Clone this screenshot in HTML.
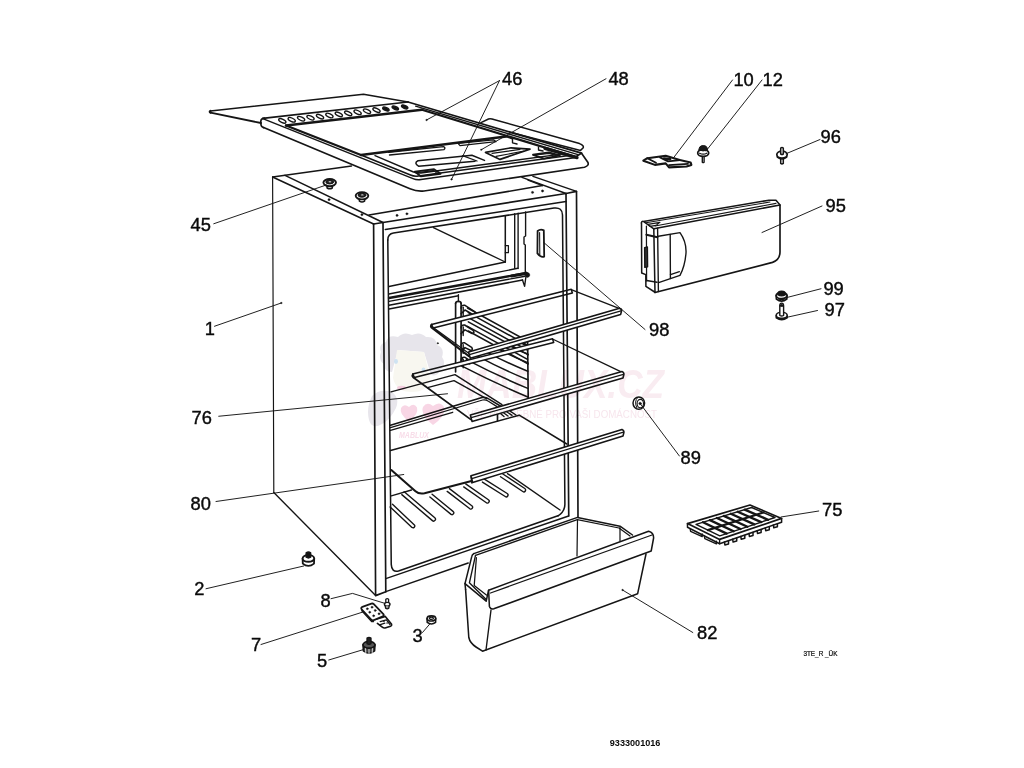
<!DOCTYPE html>
<html><head><meta charset="utf-8"><title>9333001016</title>
<style>
html,body{margin:0;padding:0;background:#fff;}
body{width:1024px;height:768px;overflow:hidden;font-family:"Liberation Sans",sans-serif;}
svg{display:block;}
svg path,svg ellipse,svg circle,svg rect,svg polygon{stroke:#151515;stroke-linecap:round;stroke-linejoin:round;}
svg text{font-family:"Liberation Sans",sans-serif;fill:#0a0a0a;stroke:none;}
</style></head><body>
<svg width="1024" height="768" viewBox="0 0 1024 768" fill="none">
<rect x="0" y="0" width="1024" height="768" fill="#ffffff" stroke="none" style="stroke:none"/>
<g id="lid">
<path d="M210.5,111 L363.5,94.3 L408,102" stroke-width="1.52" fill="none" />
<path d="M210.5,112.6 L261,123" stroke-width="1.79" fill="none" />
<path d="M210.5,111 Q209,111.8 210.5,112.6" stroke-width="2.21" fill="none" />
<path d="M262.8,118.4 L408,102" stroke-width="1.66" fill="none" />
<path d="M264.5,118.2 Q260.8,118.6 260.8,121.6 L261,124.8 Q261.2,127 263.6,127.6" stroke-width="1.66" fill="none" />
<path d="M262.8,118.6 L413,178.6 Q416.5,180.2 421,179.6 L574,157.8 L581,153.5" stroke-width="1.52" fill="none" />
<path d="M263.6,127.6 L410,188.8 Q417,191.8 424,191 L584.5,167.2 Q589.5,165.6 587.8,162.2 L581.5,153.2" stroke-width="1.66" fill="none" />
<path d="M408,102 L581.5,153.2" stroke-width="1.79" fill="none" />
<path d="M415.6,106.2 L578,154.6" stroke-width="1.38" fill="none" />
<path d="M421.9,109.8 L575,156.8" stroke-width="2.21" fill="none" />
<path d="M545,148.4 L577,157.6" stroke-width="3.31" fill="none" />
<path d="M286,125.5 L421.9,109.8" stroke-width="2.48" fill="none" />
<path d="M286,125.5 L361,155" stroke-width="2.21" fill="none" />
<path d="M361,155 L506,136.4" stroke-width="2.48" fill="none" />
<path d="M361,155 L410.5,175 Q414,176.6 418.5,176 L569,155.4" stroke-width="1.52" fill="none" />
<path d="M375,155.6 L413.5,172 Q416.5,173.6 421,173 L565,153.6" stroke-width="1.38" fill="none" />
<path d="M388.5,152.2 L443.5,146.6 Q446,147.6 444,149.6 L389.5,155" stroke-width="1.38" fill="none" />
<path d="M418,160.8 L471.9,155.2 L484.5,160.4 M418,160.8 Q413.5,163 418.5,166.2 L475,161.2" stroke-width="1.52" fill="none" />
<path d="M462.5,155.6 L477,161" stroke-width="1.24" fill="none" />
<path d="M414.8,171.6 L434,169.2 L440.6,173.8 L421,176.4 Z" stroke-width="1.93" fill="none" />
<path d="M417.5,172.6 L433.5,170.6 L437.5,173.6" stroke-width="1.10" fill="none" />
<path d="M458,143.4 L493.5,139.8 L496,141.6 L460,145.6 Z" stroke-width="1.24" fill="none" />
<path d="M485.5,152.4 L511,147.8 L530,149.2 L500,159.4 Z" stroke-width="1.66" fill="none" />
<path d="M492,153.4 L520,149.4 M496,156.4 L524,151" stroke-width="1.10" fill="none" />
<path d="M533,154.8 L548.8,152.4 L559.8,155.4 L544,158.6 Z" stroke-width="1.93" fill="none" />
<path d="M536,155 L549,153.4 L556,155.4" stroke-width="1.10" fill="none" />
<path d="M512.5,138.6 L512.5,142.8 L517,144 M538.5,147 L538.5,150 L543,151" stroke-width="1.38" fill="none" />
<path d="M506,136.4 L512.5,138.6" stroke-width="1.66" fill="none" />
<path d="M481,122.6 L488.5,119 Q490,118.4 492,119 L579.5,143.6 Q584.5,145.6 583,148 L580.5,150.4 L512,132.8" stroke-width="1.52" fill="none" />
<ellipse cx="282.3" cy="120.9" rx="3.9" ry="1.7" transform="rotate(24 282.3 120.9)" stroke-width="1.35"/>
<ellipse cx="291.7" cy="119.8" rx="3.9" ry="1.7" transform="rotate(24 291.7 119.8)" stroke-width="1.35"/>
<ellipse cx="301.1" cy="118.7" rx="3.9" ry="1.7" transform="rotate(24 301.1 118.7)" stroke-width="1.35"/>
<ellipse cx="310.5" cy="117.7" rx="3.9" ry="1.7" transform="rotate(24 310.5 117.7)" stroke-width="1.35"/>
<ellipse cx="320.0" cy="116.6" rx="3.9" ry="1.7" transform="rotate(24 320.0 116.6)" stroke-width="1.35"/>
<ellipse cx="329.4" cy="115.5" rx="3.9" ry="1.7" transform="rotate(24 329.4 115.5)" stroke-width="1.35"/>
<ellipse cx="338.8" cy="114.4" rx="3.9" ry="1.7" transform="rotate(24 338.8 114.4)" stroke-width="1.35"/>
<ellipse cx="348.2" cy="113.4" rx="3.9" ry="1.7" transform="rotate(24 348.2 113.4)" stroke-width="1.35"/>
<ellipse cx="357.6" cy="112.3" rx="3.9" ry="1.7" transform="rotate(24 357.6 112.3)" stroke-width="1.35"/>
<ellipse cx="367.0" cy="111.2" rx="3.9" ry="1.7" transform="rotate(24 367.0 111.2)" stroke-width="1.35"/>
<ellipse cx="376.5" cy="110.1" rx="3.9" ry="1.7" transform="rotate(24 376.5 110.1)" stroke-width="1.35"/>
<ellipse cx="385.9" cy="109.1" rx="3.4" ry="1.5" transform="rotate(24 385.9 109.1)" fill="#151515" stroke-width="1.4"/>
<ellipse cx="395.3" cy="108.0" rx="3.4" ry="1.5" transform="rotate(24 395.3 108.0)" fill="#151515" stroke-width="1.4"/>
<ellipse cx="404.7" cy="106.9" rx="3.4" ry="1.5" transform="rotate(24 404.7 106.9)" fill="#151515" stroke-width="1.4"/>
</g>
<g id="interior">
<path d="M433.4,227.7 L505.3,262" stroke-width="1.38" fill="none" />
<path d="M505.3,216 L505.3,262" stroke-width="1.52" fill="none" />
<path d="M505.3,245.6 L508.4,245.6 L508.4,252.7 L505.3,252.7" stroke-width="1.24" fill="none" />
<path d="M514.7,213.8 L514.7,268.3 M518.1,213.2 L518.1,268.6" stroke-width="1.38" fill="none" />
<path d="M525.6,212 L525.6,236 L524,237 L524,244 L525.3,245 L525.3,272" stroke-width="1.38" fill="none" />
<path d="M389,286.4 L505.3,262" stroke-width="1.52" fill="none" />
<path d="M389,294 L517.8,268.3" stroke-width="1.38" fill="none" />
<path d="M389,298 L526.5,273" stroke-width="2.35" fill="none" />
<path d="M389,301.4 L525,276.2" stroke-width="1.38" fill="none" />
<path d="M389,305.2 L522.5,280" stroke-width="1.52" fill="none" />
<path d="M389,309 L458.4,295.8" stroke-width="1.38" fill="none" />
<path d="M511.5,276 L526,273.4" stroke-width="3.04" fill="none" />
<circle cx="527.3" cy="275" r="2.4" fill="#151515" stroke-width="0.5"/>
<path d="M522.5,280 L524.6,286.4 L525.8,277.5" stroke-width="1.38" fill="none" />
<path d="M537.6,231 Q540.5,228.6 543.8,230.4 L544.2,256.6 Q541,258 537.4,253.4 Z" stroke-width="1.79" fill="none" />
<path d="M539.6,232.5 L539.8,254.8" stroke-width="1.10" fill="none" />
<path d="M458.4,294.8 L458.4,301.6" stroke-width="1.38" fill="none" />
<path d="M455.6,303.4 L455.6,372 M461.1,303.4 L461.1,362" stroke-width="1.66" fill="none" />
<path d="M455.6,303.4 Q455.8,301.4 458.4,301.4 Q461,301.4 461.1,303.4" stroke-width="1.66" fill="none" />
<path d="M461.1,308.2 Q461.1,304.8 464.6,305.2 L474.6,311.6 Q477.1,314.2 473.6,314.8 L465,310.0 L461.1,313.8" stroke-width="1.52" fill="none" />
<path d="M463.2,307.2 L463.2,315.8" stroke-width="1.38" fill="none" />
<path d="M461.1,328.0 Q461.1,324.6 464.6,325.0 L473.1,330.4 Q475.2,333.0 472.2,333.6 L465,329.8 L461.1,333.6" stroke-width="1.52" fill="none" />
<path d="M463.2,327.0 L463.2,335.6" stroke-width="1.38" fill="none" />
<path d="M461.1,345.79999999999995 Q461.1,342.4 464.6,342.79999999999995 L471.6,347.3 Q473.4,349.9 470.9,350.5 L465,347.59999999999997 L461.1,351.4" stroke-width="1.52" fill="none" />
<path d="M463.2,344.79999999999995 L463.2,353.4" stroke-width="1.38" fill="none" />
<path d="M461.1,360.2 Q461.1,356.8 464.6,357.2 L470.1,360.7 Q471.5,363.3 469.6,363.9 L465,362.0 L461.1,365.8" stroke-width="1.52" fill="none" />
<path d="M463.2,359.2 L463.2,367.8" stroke-width="1.38" fill="none" />
<path d="M467.5,308.0 L527.5,341.0" stroke-width="1.52" fill="none" />
<path d="M468.3,312.6 L528.3,345.6" stroke-width="1.52" fill="none" />
<path d="M467.5,317.2 L527.5,350.2" stroke-width="1.52" fill="none" />
<path d="M468.3,321.8 L528.3,354.8" stroke-width="1.52" fill="none" />
<path d="M467.5,326.4 L527.5,359.4" stroke-width="1.52" fill="none" />
<path d="M468.3,331.0 L528.3,364.0" stroke-width="1.52" fill="none" />
<path d="M527.6,341 L528.2,397.6" stroke-width="1.66" fill="none" />
<path d="M462.0,366.1 Q494.9,383.1 527.8,397.0" stroke-width="1.52" fill="none" />
<path d="M466.5,359.6 Q497.1,375.6 527.8,388.4" stroke-width="1.52" fill="none" />
<path d="M477.0,355.9 Q502.4,369.5 527.8,379.8" stroke-width="1.52" fill="none" />
<path d="M487.5,352.3 Q507.6,363.3 527.8,371.2" stroke-width="1.52" fill="none" />
<path d="M498.0,348.6 Q512.9,357.2 527.8,362.6" stroke-width="1.52" fill="none" />
<path d="M508.5,344.9 Q518.1,351.1 527.8,354.0" stroke-width="1.52" fill="none" />
<path d="M519.0,341.3 Q523.4,344.9 527.8,345.4" stroke-width="1.52" fill="none" />
<path d="M462,366 Q460.5,362 462.5,358" stroke-width="1.38" fill="none" />
<path d="M571.2,289.6 L621.6,309.4" stroke-width="1.38" fill="none" />
<path d="M431.6,324.4 L571.2,289.2 L572.4000000000001,292.9 L433.20000000000005,328.09999999999997 Z" stroke-width="1.52" fill="#fff" />
<path d="M431.6,324.6 Q430.4,326.2 431.8,327.6 L468.6,356" stroke-width="2.21" fill="none" />
<path d="M434.6,328.6 L469.4,353.8" stroke-width="1.24" fill="none" />
<path d="M552.5,339 L622.8,372.6" stroke-width="1.38" fill="none" />
<path d="M412.8,374 L552.5,338.8 L553.7,342.40000000000003 L414.40000000000003,377.6 Z" stroke-width="1.52" fill="#fff" />
<path d="M412.8,374.2 Q411.6,375.8 413,377.2 L470.6,419.4" stroke-width="1.79" fill="none" />
<path d="M391,391.8 L455,374.6 L502,404.6" stroke-width="1.38" fill="none" />
<path d="M427.5,387.6 L454,380.6 L486.8,398.8" stroke-width="1.38" fill="none" />
<path d="M391.3,470 L415.5,491.2 Q419,494.4 424.5,493.2 L471.5,481" stroke-width="2.07" fill="none" />
<path d="M471,476.2 L471.8,483" stroke-width="1.38" fill="none" />
<path d="M390.5,425.2 L482,397.6 Q485.5,396.8 488.6,398.8 L502,407" stroke-width="1.52" fill="none" />
<path d="M390.5,427.6 L482.6,400 Q485.6,399.4 488,401 L497,406.6" stroke-width="1.24" fill="none" />
<path d="M390.5,430.4 L452.7,412.3" stroke-width="1.38" fill="none" />
<path d="M390.5,450.4 L519.2,415.2 L566.8,444" stroke-width="1.52" fill="none" />
<path d="M497.5,414 L497.5,421" stroke-width="1.66" fill="none" />
<path d="M500.5,413.6 L504,416.6 M503.5,412.8 L508,416 M507,412 L512,415.4 M510.5,411.4 L516,415" stroke-width="1.38" fill="none" />
<path d="M507.5,473.6 L560,510" stroke-width="1.38" fill="none" />
<path d="M391.3,495.8 L411.5,490" stroke-width="1.38" fill="none" />
<path d="M390.1,506.9 L412.0,527.5 A1.8,1.8 0 0 0 414.4,524.9 L392.5,504.3" stroke-width="1.38" fill="none" />
<path d="M401.8,494.6 L432.4,520.6 A1.8,1.8 0 0 0 434.8,517.8 L404.2,491.8" stroke-width="1.38" fill="none" />
<path d="M429.9,497.0 L451.1,514.4 A1.8,1.8 0 0 0 453.3,511.6 L432.1,494.2" stroke-width="1.38" fill="none" />
<path d="M447.2,491.4 L469.9,508.8 A1.8,1.8 0 0 0 472.1,506.0 L449.4,488.6" stroke-width="1.38" fill="none" />
<path d="M463.7,486.9 L486.4,502.7 A1.8,1.8 0 0 0 488.4,499.7 L465.7,483.9" stroke-width="1.38" fill="none" />
<path d="M482.4,482.1 L505.2,496.5 A1.8,1.8 0 0 0 507.2,493.5 L484.4,479.1" stroke-width="1.38" fill="none" />
<path d="M500.5,476.7 L522.8,491.5 A1.8,1.8 0 0 0 524.8,488.5 L502.5,473.7" stroke-width="1.38" fill="none" />
</g>
<g id="cabinet">
<path d="M351.5,166 L272.6,177" stroke-width="1.38" fill="none" />
<path d="M272.6,177 L273.8,492.5" stroke-width="1.17" fill="none" />
<path d="M273.8,492.5 L375.6,595.6" stroke-width="1.38" fill="none" />
<path d="M272.6,177 L373.6,224" stroke-width="1.52" fill="none" />
<path d="M285,175.4 L383,222.5" stroke-width="1.52" fill="none" />
<path d="M373.6,224 L375.6,595.6 L385.8,591.7" stroke-width="1.66" fill="none" />
<path d="M383,222.5 L385.8,591.7" stroke-width="1.66" fill="none" />
<path d="M369,215 L542.5,185.6" stroke-width="1.52" fill="none" />
<path d="M373.6,224 L383,222.5 L566,193.5" stroke-width="1.66" fill="none" />
<path d="M385.3,229.5 L566,201.5" stroke-width="1.52" fill="none" />
<path d="M387.8,240 Q387.8,234 393.5,233.1 L554,208 Q562.3,207 562.5,215 L564.9,504 Q565,511.6 558,515.8" stroke-width="1.52" fill="none" />
<path d="M387.8,240 L391.25,564.4 Q391.6,572.6 398.5,571 L558,515.8" stroke-width="1.52" fill="none" />
<path d="M566,193.5 L568.75,516" stroke-width="1.66" fill="none" />
<path d="M566,193.5 L576.5,191.4 L578,517" stroke-width="1.66" fill="none" />
<path d="M576.5,191.4 L533,176.4" stroke-width="1.52" fill="none" />
<path d="M566,193.5 L522,177.4" stroke-width="1.52" fill="none" />
<path d="M542.5,185.6 L528,180.2" stroke-width="1.24" fill="none" />
<path d="M385.8,578.6 L568.6,516" stroke-width="1.52" fill="none" />
<path d="M385.8,591.6 L468.2,563" stroke-width="1.52" fill="none" />
<circle cx="361.9" cy="214.7" r="1.15" fill="#151515" stroke-width="0.3"/>
<circle cx="329" cy="199.7" r="1.15" fill="#151515" stroke-width="0.3"/>
<circle cx="397" cy="215.4" r="1.15" fill="#151515" stroke-width="0.3"/>
<circle cx="406.9" cy="213.8" r="1.15" fill="#151515" stroke-width="0.3"/>
<circle cx="532.5" cy="192.4" r="1.15" fill="#151515" stroke-width="0.3"/>
<circle cx="542.5" cy="191" r="1.15" fill="#151515" stroke-width="0.3"/>
</g>
<g transform="translate(329.7,182.6)"><path d="M-2.8,2 L-2.6,5.4 Q0,7 2.6,5.4 L2.8,2" stroke-width="1.5" fill="#fff"/><ellipse cx="0" cy="0" rx="6.3" ry="3.6" fill="#fff" stroke-width="1.9"/><ellipse cx="0" cy="-0.6" rx="3.9" ry="2" fill="#222" stroke-width="1"/><ellipse cx="0.3" cy="-0.9" rx="1.5" ry="0.7" fill="#fff" stroke-width="0.3"/></g>
<g transform="translate(362.0,195.8)"><path d="M-2.8,2 L-2.6,5.4 Q0,7 2.6,5.4 L2.8,2" stroke-width="1.5" fill="#fff"/><ellipse cx="0" cy="0" rx="6.3" ry="3.6" fill="#fff" stroke-width="1.9"/><ellipse cx="0" cy="-0.6" rx="3.9" ry="2" fill="#222" stroke-width="1"/><ellipse cx="0.3" cy="-0.9" rx="1.5" ry="0.7" fill="#fff" stroke-width="0.3"/></g>
<path d="M468.6,352.0 L619.6,308.3 Q622.0,309.1 621.4,311.45 L620.6,314.6 L470.20000000000005,358.3 Z" stroke-width="1.59" fill="#fff"/>
<path d="M469.40000000000003,354.646 L621.0,310.946" stroke-width="1.24" fill="none"/>
<path d="M470.4,415.0 L622,371.6 Q624.4,372.40000000000003 623.8,374.8 L623,378.0 L472.0,421.4 Z" stroke-width="1.59" fill="#fff"/>
<path d="M471.2,417.688 L623.4,374.288" stroke-width="1.24" fill="none"/>
<path d="M471,475.8 L622,429.4 Q624.4,430.2 623.8,432.75 L623,436.09999999999997 L472.6,482.5 Z" stroke-width="1.59" fill="#fff"/>
<path d="M471.8,478.61400000000003 L623.4,432.214" stroke-width="1.24" fill="none"/>
<g id="crisper">
<path d="M473.8,553.6 L577.5,517.4 L620,526.2 L632.5,535" stroke-width="1.52" fill="none" />
<path d="M475.5,555.4 L577.3,519.6 L619,528 L630,536" stroke-width="1.24" fill="none" />
<path d="M473.8,553.6 Q472.2,554.4 471.8,556.4 L465,583.6 L465.6,589.6" stroke-width="1.52" fill="none" />
<path d="M475.5,555.4 L469.4,582.8 L486.2,599.4" stroke-width="1.38" fill="none" />
<path d="M465,583.6 L486.2,601.2 L488.6,590.2" stroke-width="1.52" fill="none" />
<path d="M476.4,557.6 L474.2,585.6 L486.4,595" stroke-width="1.24" fill="none" />
<path d="M488.6,590.2 L648.6,531.2 Q653.8,532.6 653.6,538 L651.2,551 L493.8,608.8 Q490.6,609.6 489.4,606.4 Z" stroke-width="1.52" fill="none" />
<path d="M490.5,593 L652,535" stroke-width="1.24" fill="none" />
<path d="M465.6,589.6 L468.8,637.5 Q470,643 476,647 L482.5,651.2 L637.6,593.8 L646,554" stroke-width="1.52" fill="none" />
<path d="M491,610 L486,650" stroke-width="1.38" fill="none" />
<path d="M577.5,520 L577,556" stroke-width="1.24" fill="none" />
<path d="M620,527.5 L620,541" stroke-width="1.24" fill="none" />
</g>
<g id="door95">
<path d="M653.8,228.8 L780,205 L780,252 Q780,259.6 772.5,262.4 L655,292.5" stroke-width="1.66" fill="none" />
<path d="M653.8,228.8 L655,292.5" stroke-width="1.52" fill="none" />
<path d="M657.6,228.2 L658.4,291.6" stroke-width="1.38" fill="none" />
<path d="M653.8,228.8 L643.4,221.4 Q641.6,221 641.4,223 M643.4,221.4 L769,200.2 L776,200.2 L780,205" stroke-width="1.52" fill="none" />
<path d="M646,222.8 L770,202" stroke-width="1.10" fill="none" />
<path d="M655,226 L776,203.4" stroke-width="1.10" fill="none" />
<path d="M648,224.4 L660,222.4 L656,225.4 L650,226.4 Z" stroke-width="1.10" fill="none" />
<path d="M641.5,223 L641.7,273 L645.8,274.6 L645.9,286.4 L654.6,292" stroke-width="1.52" fill="none" />
<path d="M646.4,226 L646.6,281" stroke-width="1.24" fill="none" />
<path d="M646.4,234.8 L657.4,237.2" stroke-width="2.07" fill="none" />
<path d="M646.6,280.4 L657,282.2" stroke-width="1.52" fill="none" />
<path d="M644.6,247.6 L647.4,247 L647.6,266.8 L644.8,267.4 Z" stroke-width="1.38" fill="#333" />
<path d="M658.4,236.2 L680,232.6 Q686.6,242 686,253 Q685,266 680,275.4 L670.4,278.6 L658.6,282.6" stroke-width="1.38" fill="none" />
<path d="M670.2,234.4 L670.4,278.6" stroke-width="1.38" fill="none" />
<path d="M670.4,274.6 L679.4,271.6" stroke-width="1.24" fill="none" />
</g>
<g id="tray75">
<path d="M687.5,523.6 L750,505 L781.6,518.4 L719.6,539.4 Z" stroke-width="1.66" fill="none" />
<path d="M687.5,523.6 L687.5,527.2 L719.6,543.8 L781.6,522.1999999999999 L781.6,518.4" stroke-width="1.52" fill="none" />
<path d="M719.6,539.4 L719.6,543.8" stroke-width="1.38" fill="none" />
<path d="M696.0,524.3 L751.6,507.5 L775.0,517.5 L719.8,535.9 Z" stroke-width="1.38" fill="none" />
<path d="M707.9,530.1 L763.3,512.5" stroke-width="2.21" fill="none" />
<path d="M703.0,522.2 L726.7,533.6" stroke-width="2.35" fill="none" />
<path d="M709.9,520.1 L733.6,531.3" stroke-width="2.35" fill="none" />
<path d="M716.9,518.0 L740.5,529.0" stroke-width="2.35" fill="none" />
<path d="M723.8,515.9 L747.4,526.7" stroke-width="2.35" fill="none" />
<path d="M730.8,513.8 L754.3,524.4" stroke-width="2.35" fill="none" />
<path d="M737.7,511.7 L761.2,522.1" stroke-width="2.35" fill="none" />
<path d="M744.7,509.6 L768.1,519.8" stroke-width="2.35" fill="none" />
<path d="M724.5,542.1 l0.4,2.8 l3.6,-1 l0,-2.8" stroke-width="1.52" fill="none" />
<path d="M732.7,539.3 l0.4,2.8 l3.6,-1 l0,-2.8" stroke-width="1.52" fill="none" />
<path d="M740.8,536.4 l0.4,2.8 l3.6,-1 l0,-2.8" stroke-width="1.52" fill="none" />
<path d="M749.0,533.6 l0.4,2.8 l3.6,-1 l0,-2.8" stroke-width="1.52" fill="none" />
<path d="M757.1,530.7 l0.4,2.8 l3.6,-1 l0,-2.8" stroke-width="1.52" fill="none" />
<path d="M765.3,527.9 l0.4,2.8 l3.6,-1 l0,-2.8" stroke-width="1.52" fill="none" />
<path d="M773.4,525.0 l0.4,2.8 l3.6,-1 l0,-2.8" stroke-width="1.52" fill="none" />
<path d="M690.2,528.6 l0.4,2.8 l11.6,5.2 l0,-2.6" stroke-width="1.38" fill="none" />
<path d="M704.4,535.9 l0.4,2.8 l11.6,5.2 l0,-2.6" stroke-width="1.38" fill="none" />
</g>
<path d="M643.3,160.7 L647.4,158.2 L665.7,155.7 L679.8,159.9 L690.6,162.4 L691.4,164.9 L686.5,166.5 L669,167.4 L665.7,163.4 L654.9,164.9 Z" stroke-width="2.07" fill="#fff" />
<path d="M647.4,158.2 L656,162.8 M660,157.4 L668,161.4 L680,160.2 M669,165.2 L688,163.8" stroke-width="1.79" fill="none" />
<path d="M664,158.6 L670,159.2" stroke-width="2.76" fill="none" />
<g transform="translate(703.2,152.6)"><path d="M-0.9,3.4 L-0.9,9.6 Q0,10.4 0.9,9.6 L0.9,3.4" stroke-width="1.38" fill="#fff"/><ellipse cx="0" cy="0.4" rx="5.5" ry="3.4" fill="#fff" stroke-width="1.75"/><path d="M-4.2,-2.6 Q-4.4,-7 0,-7 Q4.4,-7 4.2,-2.6 Q0,-0.6 -4.2,-2.6 Z" fill="#1a1a1a" stroke-width="1.00"/><path d="M-3.6,0.6 Q0,2.6 3.6,0.6" stroke-width="1.25"/></g>
<g transform="translate(782,154.6)"><path d="M-1.3,2.6 L-1.3,8.8 Q0,9.8 1.3,8.8 L1.3,2.6" stroke-width="1.50" fill="#fff"/><ellipse cx="0" cy="0" rx="5.2" ry="3.5" fill="#fff" stroke-width="1.75"/><path d="M-1.3,-0.6 L-1.3,-6.6 Q0,-7.6 1.3,-6.6 L1.3,-0.6 Q0,0.2 -1.3,-0.6 Z" stroke-width="1.50" fill="#fff"/><path d="M-4.8,1.4 L-4.8,2.6 Q0,6.6 4.8,2.6 L4.8,1.4" stroke-width="1.25"/></g>
<g transform="translate(781.6,296.6)"><path d="M-5.4,-1.2 L-5.2,2.6 Q0,6.6 5.2,2.6 L5.4,-1.2" stroke-width="1.7" fill="#fff"/><ellipse cx="0" cy="-1.2" rx="5.4" ry="3.2" fill="#fff" stroke-width="1.7"/><path d="M-3.9,-1.8 Q-4.2,-5.6 0,-5.6 Q4.2,-5.6 3.9,-1.8 Q0,0.4 -3.9,-1.8 Z" fill="#151515" stroke-width="1.2"/><path d="M-3,2.2 Q0,3.6 3,2.2" stroke-width="1.3"/></g>
<g transform="translate(781.7,315.3)"><path d="M-5.5,0.4 L-5.4,2.6 Q0,6 5.4,2.6 L5.5,0.4" stroke-width="1.6" fill="#fff"/><ellipse cx="0" cy="0" rx="5.5" ry="3.1" fill="#fff" stroke-width="1.6"/><path d="M-1.9,0.2 L-1.9,-9.6 Q-1.8,-12.2 0,-12.2 Q1.8,-12.2 1.9,-9.6 L1.9,0.2 Q0,1.2 -1.9,0.2 Z" stroke-width="1.4" fill="#fff"/><path d="M-1.6,-9.4 Q0,-12.6 1.6,-9.4 Q0,-8.2 -1.6,-9.4 Z" stroke-width="1" fill="#151515"/><path d="M-3,2.8 Q0,4.2 3,2.8" stroke-width="1.2"/></g>
<g transform="translate(638.8,403.1)"><ellipse cx="0" cy="0" rx="5.8" ry="6.1" fill="#fff" stroke-width="1.5"/><path d="M-1.2,-5.6 Q-5,-1.6 -2,4.6" stroke-width="1"/><ellipse cx="1.5" cy="0.5" rx="3.2" ry="4.2" fill="#fff" stroke-width="1.1"/><circle cx="1.3" cy="0.4" r="1.3" fill="#151515" stroke-width="0.4"/></g>
<g transform="translate(308.4,560.2)"><path d="M-5.8,-1.6 L-5.6,3.4 Q0,8 5.6,3.4 L5.8,-1.6" stroke-width="1.80" fill="#fff"/><ellipse cx="0" cy="-1.8" rx="5.8" ry="3.4" fill="#fff" stroke-width="1.95"/><path d="M-2.2,-3 L-2.2,-7.4 Q0,-9.2 2.2,-7.4 L2.2,-3 Q0,-1.6 -2.2,-3 Z" fill="#111" stroke-width="1.50"/></g>
<g transform="translate(369,646.4)"><path d="M-6,-1.6 L-5.6,4.6 Q0,9 5.6,4.6 L6,-1.6" stroke-width="1.56" fill="#444"/><ellipse cx="0" cy="-1.6" rx="6" ry="3.4" fill="#555" stroke-width="1.69"/><path d="M-2,-2.6 L-2,-8.4 Q0,-9.8 2,-8.4 L2,-2.6 Q0,-1.4 -2,-2.6 Z" fill="#222" stroke-width="1.30"/><path d="M-3.4,2.2 L-3.2,6.6 M0,3 L0,7.4 M3.4,2.2 L3.2,6.6" stroke="#fff" stroke-width="0.91" style="stroke:#eee"/></g>
<g transform="translate(431.4,619.8)"><path d="M-4.3,-1.2 L-4.2,2.6 Q0,5.8 4.2,2.6 L4.3,-1.2" stroke-width="1.54" fill="#fff"/><ellipse cx="0" cy="-1.4" rx="4.3" ry="2.6" fill="#fff" stroke-width="1.68"/><ellipse cx="0" cy="-1.5" rx="2.1" ry="1.2" fill="#bbb" stroke-width="1.12"/></g>
<g transform="translate(387.2,603.6)"><path d="M-1.4,-1 L-1.4,-4.4 Q0,-5.4 1.4,-4.4 L1.4,-1" stroke-width="1.30" fill="#fff"/><ellipse cx="0" cy="0.6" rx="2.8" ry="1.8" fill="#fff" stroke-width="1.43"/><path d="M-2,2 L-1.6,4.6 Q0,5.8 1.6,4.6 L2,2" stroke-width="1.30" fill="#999"/></g>
<path d="M374.6,619.6 L385.3,616.4 L391.6,624.2 Q392,625.6 390.6,626.2 L385,628 Q383.6,628.2 382.6,627.4 L377.4,623.4" stroke-width="1.66" fill="#fff" />
<path d="M380.2,621.6 L386.4,619.8 L390,624.6 M379.6,624.8 L384.8,623.2" stroke-width="1.24" fill="none" />
<path d="M362.4,606.8 L371.4,603.6 Q372.8,603.2 373.8,604.2 L383.6,614.4 Q384.2,615.6 382.8,616.2 L373.4,620.2 Q372,620.6 371.2,619.6 L361.4,609 Q360.8,607.6 362.4,606.8 Z" stroke-width="1.79" fill="#fff" />
<path d="M361.6,609.4 L362,611 L371.6,621.6 L373.6,621.6" stroke-width="1.24" fill="none" />
<circle cx="367.3" cy="608.8" r="1.0" fill="#151515" stroke-width="0.4"/>
<circle cx="372" cy="607.2" r="1.0" fill="#151515" stroke-width="0.4"/>
<circle cx="369.7" cy="612.2" r="1.0" fill="#151515" stroke-width="0.4"/>
<circle cx="375.2" cy="610.4" r="1.0" fill="#151515" stroke-width="0.4"/>
<circle cx="373.6" cy="615.8" r="1.0" fill="#151515" stroke-width="0.4"/>
<circle cx="379" cy="613.8" r="1.0" fill="#151515" stroke-width="0.4"/>
<circle cx="383.8" cy="621.4" r="0.5" fill="#151515" stroke-width="0.3"/>
<circle cx="387" cy="623" r="0.5" fill="#151515" stroke-width="0.3"/>
<g style="stroke:none;mix-blend-mode:multiply"><path d="M381,352 Q378,344 386,342 Q388,334 398,337 Q404,331 412,335 Q420,331 426,337 Q436,336 437,345 Q445,348 442,357 Q447,364 440,370 Q438,377 431,375 L424,352 L398,350 L392,372 Q384,372 384,364 Q378,360 381,352 Z" fill="#e7e5eb" style="stroke:none"/><path d="M397,350 L424,352 L430,378 Q428,392 412,392 Q396,392 393,378 Z" fill="#f8f7f0" style="stroke:none"/><ellipse cx="396" cy="361.5" rx="2" ry="2.4" fill="#cfe3f2" style="stroke:none"/><ellipse cx="423.5" cy="370" rx="2" ry="2.4" fill="#cfe3f2" style="stroke:none"/><ellipse cx="401.5" cy="387.8" rx="4.5" ry="2" fill="#f5cfe0" style="stroke:none"/><path d="M372,396 Q380,388 392,392 Q400,398 396,408 Q390,420 382,424 Q372,430 369,420 Q366,408 372,396 Z" fill="#e8e6ec" style="stroke:none"/><path d="M409,421.5 Q399,414 401,408 Q404,403 409,407 Q414,402.5 417,407.5 Q419,414 409,421.5 Z" fill="#f8d6e5" style="stroke:none"/><path d="M433,425 Q420,415 423,407 Q427,401 433,406 Q440,400.5 444,407 Q446,416 433,425 Z" fill="#f8d6e5" style="stroke:none"/></g>
<text x="399" y="437.5" font-size="9.5" font-weight="bold" text-anchor="start" font-style="italic" fill="#f8dde9" style="fill:#f8dde9;mix-blend-mode:multiply" textLength="30" lengthAdjust="spacingAndGlyphs">MABLUX</text>
<text x="457" y="397.5" font-size="41" font-weight="bold" text-anchor="start" font-style="italic" fill="#f9ecf1" style="fill:#f9ecf1;mix-blend-mode:multiply" textLength="207" lengthAdjust="spacingAndGlyphs">MABLUX.CZ</text>
<text x="467" y="417.6" font-size="10.5" font-weight="normal" text-anchor="start" fill="#f7e6ed" style="fill:#f7e6ed;mix-blend-mode:multiply" textLength="190" lengthAdjust="spacingAndGlyphs">VŠE POTŘEBNÉ PRO VAŠI DOMÁCNOST</text>
<path d="M499.5,80.6L426.5,120" stroke-width="0.95" stroke="#1c1c1c"/>
<path d="M499.5,80.6L451.5,179.4" stroke-width="0.95" stroke="#1c1c1c"/>
<path d="M606,78.75L481.25,149.7" stroke-width="0.95" stroke="#1c1c1c"/>
<path d="M732.5,80L673.75,157.5" stroke-width="0.95" stroke="#1c1c1c"/>
<path d="M762,80L706,151" stroke-width="0.95" stroke="#1c1c1c"/>
<path d="M820,139.5L786,153.75" stroke-width="0.95" stroke="#1c1c1c"/>
<path d="M822,206L762,232.5" stroke-width="0.95" stroke="#1c1c1c"/>
<path d="M821,288.75L785,298" stroke-width="0.95" stroke="#1c1c1c"/>
<path d="M817.5,310.5L786,317.5" stroke-width="0.95" stroke="#1c1c1c"/>
<path d="M645,329.5L543.75,242.5" stroke-width="0.95" stroke="#1c1c1c"/>
<path d="M679.4,456L640.1,403.5" stroke-width="0.95" stroke="#1c1c1c"/>
<path d="M818.75,511L781,517" stroke-width="0.95" stroke="#1c1c1c"/>
<path d="M692.8,632.5L622.5,590" stroke-width="0.95" stroke="#1c1c1c"/>
<path d="M213.75,223.75L326.25,185" stroke-width="0.95" stroke="#1c1c1c"/>
<path d="M214.5,326.25L281.25,303" stroke-width="0.95" stroke="#1c1c1c"/>
<path d="M218.75,416.25L447.5,393.75" stroke-width="0.95" stroke="#1c1c1c"/>
<path d="M216,501.5L403.75,474.5" stroke-width="0.95" stroke="#1c1c1c"/>
<path d="M206,588.75L303.75,566" stroke-width="0.95" stroke="#1c1c1c"/>
<path d="M331,598.7L352.5,593.4L385,603.4" stroke-width="0.95" stroke="#1c1c1c"/>
<path d="M261,644.5L363.75,611.75" stroke-width="0.95" stroke="#1c1c1c"/>
<path d="M328.75,660L363.75,649.5" stroke-width="0.95" stroke="#1c1c1c"/>
<path d="M422.5,632.5L430,623.75" stroke-width="0.95" stroke="#1c1c1c"/>
<circle cx="426.5" cy="120" r="0.8" fill="#151515" stroke-width="0.3"/>
<circle cx="451.5" cy="179.4" r="0.8" fill="#151515" stroke-width="0.3"/>
<circle cx="481.25" cy="149.7" r="0.8" fill="#151515" stroke-width="0.3"/>
<circle cx="281.25" cy="303" r="0.8" fill="#151515" stroke-width="0.3"/>
<circle cx="622.5" cy="590" r="0.8" fill="#151515" stroke-width="0.3"/>
<circle cx="437.8" cy="343.3" r="0.8" fill="#151515" stroke-width="0.3"/>
<text transform="translate(502.10,84.60) scale(1,1.03)" font-size="18.3" stroke="#0a0a0a" stroke-width="0.4" style="stroke:#0a0a0a">46</text>
<text transform="translate(608.40,84.60) scale(1,1.03)" font-size="18.3" stroke="#0a0a0a" stroke-width="0.4" style="stroke:#0a0a0a">48</text>
<text transform="translate(733.40,86.20) scale(1,1.03)" font-size="18.3" stroke="#0a0a0a" stroke-width="0.4" style="stroke:#0a0a0a">10</text>
<text transform="translate(762.60,86.20) scale(1,1.03)" font-size="18.3" stroke="#0a0a0a" stroke-width="0.4" style="stroke:#0a0a0a">12</text>
<text transform="translate(820.60,143.20) scale(1,1.03)" font-size="18.3" stroke="#0a0a0a" stroke-width="0.4" style="stroke:#0a0a0a">96</text>
<text transform="translate(825.60,212.20) scale(1,1.03)" font-size="18.3" stroke="#0a0a0a" stroke-width="0.4" style="stroke:#0a0a0a">95</text>
<text transform="translate(823.40,295.20) scale(1,1.03)" font-size="18.3" stroke="#0a0a0a" stroke-width="0.4" style="stroke:#0a0a0a">99</text>
<text transform="translate(824.60,316.20) scale(1,1.03)" font-size="18.3" stroke="#0a0a0a" stroke-width="0.4" style="stroke:#0a0a0a">97</text>
<text transform="translate(649.10,336.20) scale(1,1.03)" font-size="18.3" stroke="#0a0a0a" stroke-width="0.4" style="stroke:#0a0a0a">98</text>
<text transform="translate(680.60,464.20) scale(1,1.03)" font-size="18.3" stroke="#0a0a0a" stroke-width="0.4" style="stroke:#0a0a0a">89</text>
<text transform="translate(822.10,515.60) scale(1,1.03)" font-size="18.3" stroke="#0a0a0a" stroke-width="0.4" style="stroke:#0a0a0a">75</text>
<text transform="translate(697.10,638.60) scale(1,1.03)" font-size="18.3" stroke="#0a0a0a" stroke-width="0.4" style="stroke:#0a0a0a">82</text>
<text transform="translate(190.60,231.20) scale(1,1.03)" font-size="18.3" stroke="#0a0a0a" stroke-width="0.4" style="stroke:#0a0a0a">45</text>
<text transform="translate(204.70,334.60) scale(1,1.03)" font-size="18.3" stroke="#0a0a0a" stroke-width="0.4" style="stroke:#0a0a0a">1</text>
<text transform="translate(191.60,423.60) scale(1,1.03)" font-size="18.3" stroke="#0a0a0a" stroke-width="0.4" style="stroke:#0a0a0a">76</text>
<text transform="translate(190.60,510.00) scale(1,1.03)" font-size="18.3" stroke="#0a0a0a" stroke-width="0.4" style="stroke:#0a0a0a">80</text>
<text transform="translate(194.30,595.00) scale(1,1.03)" font-size="18.3" stroke="#0a0a0a" stroke-width="0.4" style="stroke:#0a0a0a">2</text>
<text transform="translate(320.60,606.90) scale(1,1.03)" font-size="18.3" stroke="#0a0a0a" stroke-width="0.4" style="stroke:#0a0a0a">8</text>
<text transform="translate(251.10,650.60) scale(1,1.03)" font-size="18.3" stroke="#0a0a0a" stroke-width="0.4" style="stroke:#0a0a0a">7</text>
<text transform="translate(317.10,666.80) scale(1,1.03)" font-size="18.3" stroke="#0a0a0a" stroke-width="0.4" style="stroke:#0a0a0a">5</text>
<text transform="translate(412.50,642.00) scale(1,1.03)" font-size="18.3" stroke="#0a0a0a" stroke-width="0.4" style="stroke:#0a0a0a">3</text>
<text x="803.4" y="656" font-size="6.4" font-weight="normal" text-anchor="start" stroke="#0a0a0a" stroke-width="0.2" style="stroke:#0a0a0a">3TE_R _ÜK</text>
<text x="609.8" y="745.6" font-size="9.1" font-weight="bold" text-anchor="start" >9333001016</text>
</svg>
</body></html>
